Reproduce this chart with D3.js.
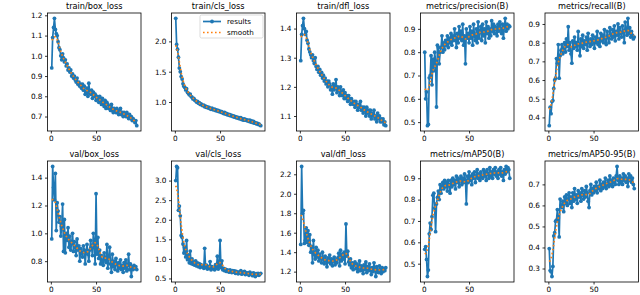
<!DOCTYPE html>
<html>
<head>
<meta charset="utf-8">
<script src="https://cdn.jsdelivr.net/npm/d3@7"></script>
<style>
  body { margin: 0; background: #fff; }
  svg { display: block; font-family: "DejaVu Sans", sans-serif; }
</style>
</head>
<body>
<svg id="chart" width="640" height="295"></svg>
<script>
const epochs = d3.range(1, 96);

const titles = [
  "train/box_loss", "train/cls_loss", "train/dfl_loss", "metrics/precision(B)", "metrics/recall(B)",
  "val/box_loss", "val/cls_loss", "val/dfl_loss", "metrics/mAP50(B)", "metrics/mAP50-95(B)"
];

const trainBox = [
  0.94, 1.09, 1.14, 1.185, 1.13, 1.11, 1.10, 1.07, 1.04, 1.03,
  1.00, 0.98, 1.01, 0.99, 0.97, 0.98, 0.95, 0.96, 0.93, 0.94,
  0.92, 0.93, 0.90, 0.91, 0.89, 0.90, 0.88, 0.87, 0.89, 0.86,
  0.87, 0.85, 0.86, 0.84, 0.86, 0.83, 0.85, 0.81, 0.82, 0.84,
  0.80, 0.865, 0.82, 0.81, 0.83, 0.79, 0.82, 0.80, 0.81, 0.78,
  0.80, 0.79, 0.77, 0.80, 0.78, 0.76, 0.79, 0.77, 0.75, 0.78,
  0.74, 0.77, 0.76, 0.74, 0.75, 0.73, 0.76, 0.74, 0.72, 0.74,
  0.73, 0.72, 0.74, 0.72, 0.71, 0.73, 0.74, 0.71, 0.72, 0.70,
  0.72, 0.71, 0.70, 0.72, 0.70, 0.69, 0.71, 0.69, 0.70, 0.68,
  0.69, 0.68, 0.67, 0.68, 0.655
];
const trainCls = [
  2.38, 1.95, 1.87, 1.74, 1.56, 1.50, 1.42, 1.38, 1.30, 1.26,
  1.24, 1.20, 1.22, 1.16, 1.14, 1.12, 1.13, 1.09, 1.08, 1.05,
  1.06, 1.03, 1.02, 1.00, 1.01, 0.98, 0.99, 0.96, 0.97, 0.95,
  0.94, 0.95, 0.92, 0.93, 0.91, 0.92, 0.90, 0.91, 0.89, 0.88,
  0.90, 0.88, 0.87, 0.88, 0.86, 0.87, 0.85, 0.86, 0.84, 0.85,
  0.83, 0.84, 0.82, 0.81, 0.83, 0.80, 0.81, 0.79, 0.80, 0.78,
  0.79, 0.77, 0.78, 0.76, 0.77, 0.75, 0.76, 0.74, 0.75, 0.73,
  0.74, 0.72, 0.74, 0.71, 0.72, 0.70, 0.72, 0.70, 0.71, 0.69,
  0.70, 0.68, 0.70, 0.67, 0.69, 0.66, 0.68, 0.65, 0.66, 0.64,
  0.65, 0.63, 0.64, 0.62, 0.61
];
const trainDfl = [
  1.29, 1.38, 1.41, 1.435, 1.40, 1.38, 1.39, 1.36, 1.35, 1.33,
  1.32, 1.31, 1.30, 1.31, 1.29, 1.28, 1.30, 1.27, 1.26, 1.27,
  1.25, 1.26, 1.24, 1.25, 1.23, 1.24, 1.22, 1.23, 1.21, 1.22,
  1.20, 1.22, 1.21, 1.19, 1.20, 1.175, 1.21, 1.19, 1.20, 1.225,
  1.18, 1.20, 1.19, 1.17, 1.20, 1.18, 1.17, 1.19, 1.16, 1.18,
  1.16, 1.17, 1.15, 1.17, 1.16, 1.14, 1.16, 1.15, 1.14, 1.15,
  1.13, 1.15, 1.14, 1.12, 1.14, 1.13, 1.15, 1.12, 1.13, 1.11,
  1.13, 1.12, 1.10, 1.13, 1.11, 1.12, 1.10, 1.12, 1.09, 1.11,
  1.10, 1.12, 1.09, 1.10, 1.08, 1.11, 1.09, 1.10, 1.08, 1.09,
  1.08, 1.09, 1.07, 1.08, 1.067
];
const precision = [
  0.80, 0.60, 0.63, 0.485, 0.49, 0.69, 0.70, 0.785, 0.66, 0.77,
  0.72, 0.80, 0.76, 0.565, 0.83, 0.82, 0.75, 0.80, 0.82, 0.87,
  0.80, 0.84, 0.81, 0.85, 0.83, 0.87, 0.82, 0.86, 0.84, 0.88,
  0.83, 0.87, 0.85, 0.90, 0.86, 0.82, 0.88, 0.84, 0.91, 0.86,
  0.89, 0.85, 0.92, 0.83, 0.87, 0.75, 0.90, 0.86, 0.88, 0.84,
  0.91, 0.86, 0.89, 0.83, 0.92, 0.87, 0.85, 0.90, 0.84, 0.93,
  0.86, 0.89, 0.91, 0.85, 0.92, 0.87, 0.90, 0.84, 0.93, 0.88,
  0.91, 0.86, 0.90, 0.87, 0.935, 0.89, 0.92, 0.88, 0.91, 0.90,
  0.87, 0.92, 0.89, 0.93, 0.90, 0.88, 0.92, 0.86, 0.91, 0.945,
  0.89, 0.92, 0.90, 0.915, 0.91
];
const recall = [
  0.356, 0.455, 0.42, 0.485, 0.49, 0.555, 0.60, 0.61, 0.715, 0.69,
  0.79, 0.61, 0.73, 0.76, 0.79, 0.74, 0.77, 0.80, 0.75, 0.82,
  0.78, 0.885, 0.76, 0.80, 0.74, 0.69, 0.81, 0.77, 0.83, 0.78,
  0.80, 0.76, 0.86, 0.79, 0.73, 0.82, 0.78, 0.84, 0.77, 0.81,
  0.79, 0.83, 0.76, 0.85, 0.80, 0.78, 0.82, 0.79, 0.84, 0.81,
  0.77, 0.83, 0.80, 0.86, 0.79, 0.82, 0.78, 0.85, 0.81, 0.84,
  0.80, 0.87, 0.82, 0.79, 0.86, 0.83, 0.80, 0.88, 0.84, 0.82,
  0.87, 0.83, 0.89, 0.81, 0.86, 0.84, 0.90, 0.82, 0.88, 0.85,
  0.83, 0.89, 0.86, 0.80, 0.91, 0.87, 0.84, 0.93, 0.85, 0.88,
  0.83, 0.86, 0.84, 0.82, 0.83
];
const valBox = [
  0.96, 1.48, 1.33, 1.24, 1.43, 1.02, 1.22, 1.16, 1.08, 1.12,
  0.98, 1.05, 1.21, 0.87, 1.10, 0.86, 1.00, 0.95, 1.04, 0.90,
  0.98, 0.88, 0.93, 1.00, 0.87, 0.94, 0.90, 0.84, 0.96, 0.88,
  0.91, 0.80, 0.89, 0.86, 0.83, 0.91, 0.88, 0.78, 0.87, 0.92,
  0.85, 0.80, 0.88, 0.95, 0.90, 0.84, 1.00, 0.92, 0.78, 1.285,
  0.85, 0.97, 0.82, 0.88, 0.78, 0.84, 0.80, 0.77, 0.86, 0.81,
  0.79, 0.92, 0.75, 0.83, 0.90, 0.78, 0.72, 0.85, 0.76, 0.80,
  0.74, 0.82, 0.78, 0.73, 0.79, 0.75, 0.81, 0.74, 0.77, 0.72,
  0.79, 0.75, 0.81, 0.73, 0.77, 0.85, 0.74, 0.78, 0.69, 0.76,
  0.74, 0.77, 0.75, 0.76, 0.74
];
const valCls = [
  3.00, 3.36, 3.33, 2.24, 2.35, 2.10, 1.60, 1.55, 1.38, 1.15,
  1.30, 1.05, 1.47, 0.98, 1.10, 0.90, 1.20, 0.88, 1.00, 0.86,
  0.92, 0.84, 0.95, 0.82, 0.90, 0.80, 0.88, 0.78, 0.85, 0.80,
  0.82, 0.76, 1.27, 0.78, 0.84, 0.74, 0.80, 0.76, 0.93, 0.72,
  0.80, 0.75, 0.78, 0.72, 0.85, 0.76, 1.07, 0.74, 0.82, 1.47,
  0.78, 0.95, 0.72, 0.76, 0.70, 0.74, 0.68, 0.72, 0.70, 0.66,
  0.72, 0.68, 0.65, 0.70, 0.66, 0.69, 0.63, 0.68, 0.65, 0.62,
  0.67, 0.64, 0.70, 0.61, 0.66, 0.63, 0.68, 0.60, 0.65, 0.62,
  0.64, 0.58, 0.66, 0.61, 0.63, 0.57, 0.64, 0.60, 0.55, 0.62,
  0.59, 0.63, 0.58, 0.61, 0.63
];
const valDfl = [
  1.48, 2.28, 1.80, 1.83, 1.49, 1.52, 1.65, 1.50, 1.62, 1.47,
  1.58, 1.40, 1.46, 1.29, 1.52, 1.38, 1.33, 1.45, 1.35, 1.42,
  1.31, 1.38, 1.34, 1.29, 1.40, 1.33, 1.28, 1.36, 1.31, 1.25,
  1.34, 1.30, 1.37, 1.28, 1.33, 1.26, 1.31, 1.35, 1.27, 1.32,
  1.29, 1.34, 1.39, 1.26, 1.42, 1.31, 1.38, 1.33, 1.40, 1.28,
  1.69, 1.36, 1.41, 1.30, 1.27, 1.33, 1.24, 1.29, 1.22, 1.27,
  1.30, 1.23, 1.28, 1.20, 1.25, 1.31, 1.21, 1.26, 1.23, 1.18,
  1.27, 1.22, 1.30, 1.19, 1.25, 1.21, 1.28, 1.23, 1.17, 1.24,
  1.20, 1.29, 1.22, 1.15, 1.25, 1.21, 1.19, 1.26, 1.22, 1.18,
  1.24, 1.20, 1.23, 1.21, 1.24
];
const mAP50 = [
  0.567, 0.58, 0.52, 0.44, 0.47, 0.64, 0.69, 0.66, 0.72, 0.82,
  0.83, 0.76, 0.65, 0.78, 0.81, 0.84, 0.80, 0.87, 0.83, 0.86,
  0.88, 0.85, 0.89, 0.86, 0.88, 0.84, 0.89, 0.87, 0.83, 0.89,
  0.86, 0.90, 0.87, 0.89, 0.85, 0.91, 0.88, 0.90, 0.86, 0.89,
  0.91, 0.87, 0.90, 0.88, 0.92, 0.89, 0.78, 0.91, 0.88, 0.93,
  0.89, 0.91, 0.87, 0.92, 0.90, 0.93, 0.88, 0.91, 0.94, 0.90,
  0.92, 0.89, 0.93, 0.91, 0.90, 0.94, 0.91, 0.93, 0.89, 0.94,
  0.92, 0.90, 0.95, 0.91, 0.93, 0.90, 0.94, 0.92, 0.95, 0.91,
  0.93, 0.90, 0.94, 0.92, 0.95, 0.91, 0.93, 0.89, 0.94, 0.92,
  0.955, 0.93, 0.95, 0.94, 0.90
];
const mAP5095 = [
  0.395, 0.29, 0.285, 0.262, 0.31, 0.455, 0.47, 0.525, 0.53, 0.58,
  0.54, 0.45, 0.63, 0.60, 0.59, 0.62, 0.57, 0.64, 0.61, 0.65,
  0.60, 0.63, 0.66, 0.61, 0.64, 0.59, 0.66, 0.62, 0.68, 0.63,
  0.65, 0.61, 0.67, 0.64, 0.66, 0.62, 0.68, 0.65, 0.63, 0.67,
  0.64, 0.69, 0.66, 0.62, 0.59, 0.67, 0.70, 0.65, 0.68, 0.66,
  0.69, 0.67, 0.71, 0.66, 0.69, 0.68, 0.72, 0.67, 0.70, 0.68,
  0.71, 0.69, 0.73, 0.68, 0.70, 0.72, 0.69, 0.74, 0.70, 0.72,
  0.69, 0.73, 0.71, 0.70, 0.74, 0.785, 0.72, 0.70, 0.74, 0.71,
  0.73, 0.70, 0.75, 0.72, 0.74, 0.71, 0.73, 0.69, 0.75, 0.72,
  0.74, 0.71, 0.73, 0.70, 0.68
];

const series = [trainBox, trainCls, trainDfl, precision, recall,
                valBox, valCls, valDfl, mAP50, mAP5095];

const xTicks = [0, 50];
const yTicks = [
  [0.7, 0.8, 0.9, 1.0, 1.1, 1.2],
  [1.0, 1.5, 2.0],
  [1.1, 1.2, 1.3, 1.4],
  [0.5, 0.6, 0.7, 0.8, 0.9],
  [0.4, 0.5, 0.6, 0.7, 0.8, 0.9],
  [0.8, 1.0, 1.2, 1.4],
  [0.5, 1.0, 1.5, 2.0, 2.5, 3.0],
  [1.2, 1.4, 1.6, 1.8, 2.0, 2.2],
  [0.5, 0.6, 0.7, 0.8, 0.9],
  [0.3, 0.4, 0.5, 0.6, 0.7]
];
const legendLabels = ["results", "smooth"];

// layout
const colLeft = [47.5, 171.5, 296.5, 420.5, 545];
const panelW = 93.5;
const rowTop = [13, 161];
const panelH = [118, 121];
const blue = "#1f77b4", orange = "#ff7f0e";
const lw = 1.7, dotR = 1.9, dash = "1.6,2.4";

// gaussian_filter1d(sigma=3, mode='reflect')
function gaussSmooth(y, sigma) {
  const r = Math.round(4 * sigma);
  const w = d3.range(-r, r + 1).map(k => Math.exp(-0.5 * (k / sigma) ** 2));
  const sw = d3.sum(w);
  const n = y.length;
  const idx = i => {
    while (i < 0 || i >= n) i = i < 0 ? -i - 1 : 2 * n - i - 1;
    return i;
  };
  return y.map((_, i) => d3.sum(w, (wk, j) => wk * y[idx(i + j - r)]) / sw);
}

const svg = d3.select("#chart");

series.forEach((vals, p) => {
  const col = p % 5, row = Math.floor(p / 5);
  const x0 = colLeft[col], y0 = rowTop[row], h = panelH[row];

  const xPad = (d3.max(epochs) - d3.min(epochs)) * 0.05;
  const x = d3.scaleLinear()
    .domain([d3.min(epochs) - xPad, d3.max(epochs) + xPad])
    .range([0, panelW]);
  const [lo, hi] = d3.extent(vals);
  const yPad = (hi - lo) * 0.05;
  const y = d3.scaleLinear().domain([lo - yPad, hi + yPad]).range([h, 0]);

  const g = svg.append("g").attr("transform", `translate(${x0},${y0})`);

  const line = d3.line().x((d, i) => x(epochs[i])).y(d => y(d));

  g.append("path")
    .attr("d", line(vals))
    .attr("fill", "none")
    .attr("stroke", blue)
    .attr("stroke-width", lw)
    .attr("stroke-linejoin", "round");

  g.selectAll("circle")
    .data(vals)
    .join("circle")
    .attr("cx", (d, i) => x(epochs[i]))
    .attr("cy", d => y(d))
    .attr("r", dotR)
    .attr("fill", blue);

  g.append("path")
    .attr("d", line(gaussSmooth(vals, 3)))
    .attr("fill", "none")
    .attr("stroke", orange)
    .attr("stroke-width", lw)
    .attr("stroke-dasharray", dash);

  const xAxis = g.append("g")
    .attr("transform", `translate(0,${h})`)
    .call(d3.axisBottom(x).tickValues(xTicks).tickFormat(d3.format("d"))
      .tickSize(2.5).tickPadding(2.5));
  const yAxis = g.append("g")
    .call(d3.axisLeft(y).tickValues(yTicks[p]).tickFormat(d3.format(".1f"))
      .tickSize(2.5).tickPadding(2.5));

  [xAxis, yAxis].forEach(a => {
    a.select(".domain").remove();
    a.selectAll("line").attr("stroke", "#000").attr("stroke-width", 0.8);
    a.selectAll("text").attr("fill", "#000")
      .style("font-family", "'DejaVu Sans', sans-serif").style("font-size", "7.3px");
  });

  g.append("rect")
    .attr("width", panelW).attr("height", h)
    .attr("fill", "none").attr("stroke", "#000").attr("stroke-width", 0.8);

  g.append("text")
    .attr("x", panelW / 2).attr("y", -4)
    .attr("text-anchor", "middle")
    .style("font-size", "8.2px")
    .text(titles[p]);

  if (p === 1) {
    const lg = g.append("g").attr("transform", `translate(${panelW - 65},2)`);
    lg.append("rect")
      .attr("width", 63).attr("height", 23).attr("rx", 1.5)
      .attr("fill", "#fff").attr("fill-opacity", 0.8)
      .attr("stroke", "#ccc").attr("stroke-width", 0.7);
    legendLabels.forEach((lab, i) => {
      const ly = 6.5 + i * 11;
      lg.append("line")
        .attr("x1", 3).attr("x2", 21).attr("y1", ly).attr("y2", ly)
        .attr("stroke", i ? orange : blue).attr("stroke-width", lw)
        .attr("stroke-dasharray", i ? dash : null);
      if (!i) lg.append("circle").attr("cx", 12).attr("cy", ly).attr("r", dotR).attr("fill", blue);
      lg.append("text")
        .attr("x", 27).attr("y", ly + 2.5)
        .style("font-size", "7.2px")
        .text(lab);
    });
  }
});
</script>
</body>
</html>
